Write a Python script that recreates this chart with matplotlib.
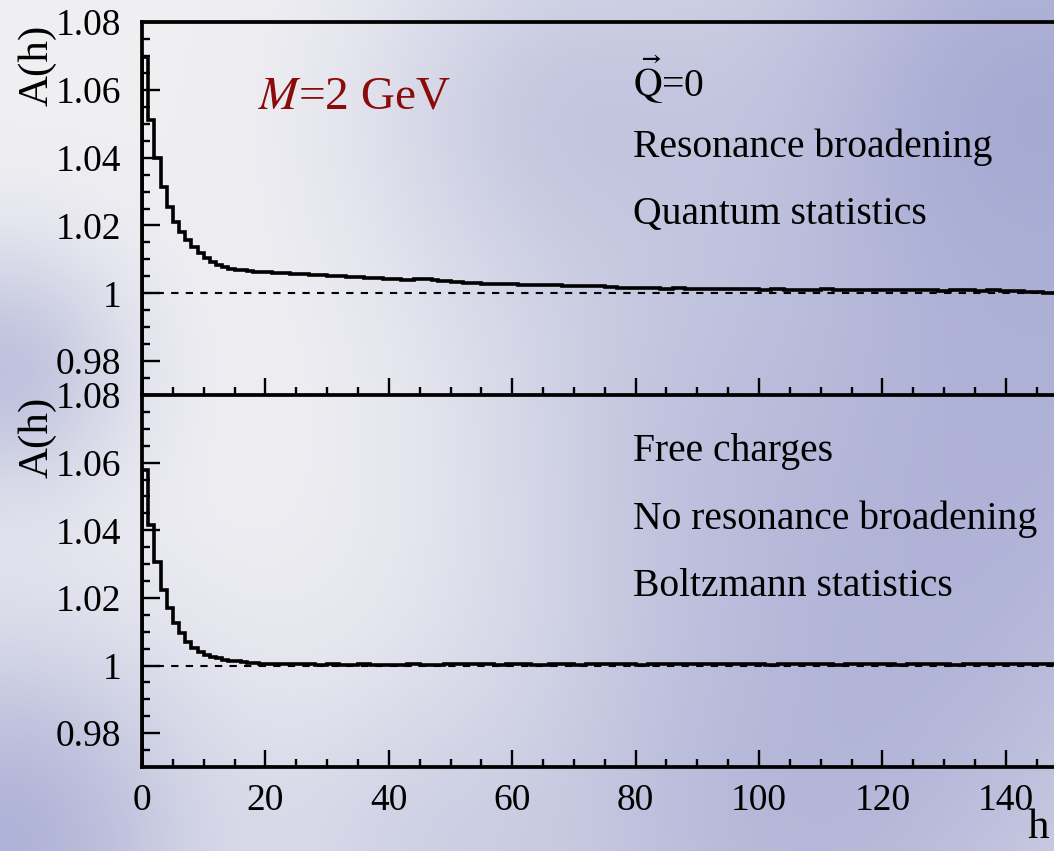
import numpy as np
import matplotlib
matplotlib.use("Agg")
import matplotlib.pyplot as plt
from matplotlib.ticker import MultipleLocator

plt.rcParams['font.family'] = ['Liberation Serif', 'DejaVu Serif']
plt.rcParams['mathtext.fontset'] = 'stix'

# A(h) per unit bin in h, bins start at h = 0
A_upper = [
    1.0697, 1.0511, 1.0398, 1.0313, 1.0254, 1.0210, 1.0180, 1.0156, 1.0136, 1.0118,
    1.0103, 1.0091, 1.0083, 1.0077, 1.0073, 1.0070, 1.0068, 1.0066, 1.0064, 1.0063,
    1.0062, 1.0061, 1.0060, 1.0059, 1.0058, 1.0057, 1.0056, 1.0055, 1.0054, 1.0053,
    1.0052, 1.0051, 1.0050, 1.0049, 1.0048, 1.0047, 1.0046, 1.0045, 1.0044, 1.0043,
    1.0042, 1.0041, 1.0040, 1.0040, 1.0041, 1.0042, 1.0042, 1.0040, 1.0037, 1.0035,
    1.0033, 1.0032, 1.0031, 1.0030, 1.0029, 1.0028, 1.0028, 1.0027, 1.0027, 1.0026,
    1.0026, 1.0025, 1.0025, 1.0024, 1.0024, 1.0024, 1.0023, 1.0023, 1.0022, 1.0022,
    1.0022, 1.0021, 1.0021, 1.0020, 1.0020, 1.0019, 1.0018, 1.0017, 1.0016, 1.0016,
    1.0016, 1.0015, 1.0015, 1.0015, 1.0014, 1.0014, 1.0015, 1.0015, 1.0014, 1.0014,
    1.0014, 1.0013, 1.0013, 1.0013, 1.0013, 1.0012, 1.0012, 1.0012, 1.0012, 1.0012,
    1.0011, 1.0011, 1.0012, 1.0012, 1.0011, 1.0011, 1.0011, 1.0010, 1.0010, 1.0011,
    1.0012, 1.0012, 1.0011, 1.0011, 1.0010, 1.0010, 1.0010, 1.0009, 1.0009, 1.0010,
    1.0010, 1.0009, 1.0009, 1.0010, 1.0010, 1.0010, 1.0009, 1.0009, 1.0009, 1.0008,
    1.0008, 1.0009, 1.0009, 1.0010, 1.0009, 1.0008, 1.0008, 1.0009, 1.0009, 1.0008,
    1.0007, 1.0006, 1.0006, 1.0005, 1.0004, 1.0003, 1.0002, 1.0002,
]

A_lower = [
    1.0579, 1.0416, 1.0307, 1.0224, 1.0171, 1.0127, 1.0097, 1.0071, 1.0053, 1.0041,
    1.0032, 1.0026, 1.0021, 1.0017, 1.0014, 1.0012, 1.0010, 1.0008, 1.0007, 1.0006,
    1.0005, 1.0005, 1.0004, 1.0004, 1.0005, 1.0005, 1.0004, 1.0004, 1.0003, 1.0003,
    1.0004, 1.0004, 1.0003, 1.0003, 1.0003, 1.0004, 1.0004, 1.0003, 1.0003, 1.0003,
    1.0003, 1.0003, 1.0003, 1.0004, 1.0004, 1.0003, 1.0003, 1.0003, 1.0003, 1.0004,
    1.0004, 1.0004, 1.0005, 1.0005, 1.0004, 1.0004, 1.0004, 1.0003, 1.0003, 1.0004,
    1.0004, 1.0004, 1.0004, 1.0003, 1.0003, 1.0003, 1.0004, 1.0004, 1.0004, 1.0004,
    1.0003, 1.0003, 1.0004, 1.0004, 1.0004, 1.0005, 1.0005, 1.0004, 1.0004, 1.0004,
    1.0003, 1.0003, 1.0004, 1.0004, 1.0005, 1.0006, 1.0006, 1.0005, 1.0004, 1.0004,
    1.0004, 1.0004, 1.0005, 1.0005, 1.0004, 1.0004, 1.0004, 1.0005, 1.0005, 1.0004,
    1.0004, 1.0003, 1.0003, 1.0004, 1.0004, 1.0004, 1.0005, 1.0005, 1.0005, 1.0004,
    1.0004, 1.0004, 1.0003, 1.0003, 1.0004, 1.0004, 1.0005, 1.0005, 1.0004, 1.0004,
    1.0004, 1.0004, 1.0003, 1.0003, 1.0004, 1.0004, 1.0004, 1.0005, 1.0005, 1.0004,
    1.0004, 1.0003, 1.0003, 1.0004, 1.0004, 1.0004, 1.0005, 1.0005, 1.0005, 1.0004,
    1.0004, 1.0004, 1.0005, 1.0006, 1.0006, 1.0005, 1.0005, 1.0004,
]

upper_notes = [r'$\vec{\mathrm{Q}}$=0', 'Resonance broadening', 'Quantum statistics']
lower_notes = ['Free charges', 'No resonance broadening', 'Boltzmann statistics']

W, H = 1054, 851
fig = plt.figure(figsize=(W / 100, H / 100), dpi=100)

# cloudy blue backdrop
bg = fig.add_axes([0, 0, 1, 1])
bg.set_axis_off()
yy, xx = np.mgrid[0:H:4, 0:W:4]
blobs = [(1040, 110, 240, 0.9), (560, 110, 140, 0.45), (920, 620, 240, 0.6),
         (780, 860, 200, 0.6), (0, 840, 150, 0.8), (0, 370, 90, 0.6),
         (680, 420, 150, 0.3), (1060, 430, 180, 0.5), (420, 860, 120, 0.3)]
keep = np.ones_like(xx, dtype=float)
for bx, by, s, w in blobs:
    keep *= 1 - w * np.exp(-((xx - bx) ** 2 + (yy - by) ** 2) / (2 * s ** 2))
t = np.clip(1 - keep, 0, 1)[..., None]
light = np.array([240, 240, 243]) / 255
blue = np.array([160, 164, 208]) / 255
bg.imshow(light * (1 - t) + blue * t, extent=[0, W, H, 0], aspect='auto',
          interpolation='bicubic')
bg.set_xlim(0, W)
bg.set_ylim(H, 0)

left = 142 / W
y_top, y_mid, y_bot = 1 - 22 / H, 1 - 395 / H, 1 - 767 / H
ax1 = fig.add_axes([left, y_mid, 1 - left, y_top - y_mid])
ax2 = fig.add_axes([left, y_bot, 1 - left, y_mid - y_bot])

for ax, vals in ((ax1, A_upper), (ax2, A_lower)):
    ax.set_facecolor('none')
    ax.stairs(vals, np.arange(len(vals) + 1), color='black', lw=2.6)
    ax.axhline(1.0, color='black', lw=1.5, ls=(0, (3.5, 3.5)))
    ax.set_xlim(0, 147.8)
    ax.set_ylim(0.97, 1.08)
    ax.yaxis.set_minor_locator(MultipleLocator(0.005))
    ax.xaxis.set_major_locator(MultipleLocator(20))
    ax.xaxis.set_minor_locator(MultipleLocator(5))
    ax.set_yticks([0.98, 1.0, 1.02, 1.04, 1.06, 1.08])
    ax.set_yticklabels(['0.98', '1', '1.02', '1.04', '1.06', '1.08'])
    ax.tick_params(which='both', direction='in', top=False, right=False,
                   labelsize=27, width=1.7)
    ax.tick_params(axis='y', which='major', length=13, pad=15)
    ax.tick_params(axis='y', which='minor', length=6)
    ax.tick_params(axis='x', which='major', length=12, pad=12)
    ax.tick_params(axis='x', which='minor', length=6)
    for side in ('left', 'bottom', 'top'):
        ax.spines[side].set_linewidth(2.7)
    ax.spines['right'].set_visible(False)

ax1.tick_params(axis='x', labelbottom=False)
ax2.spines['top'].set_visible(False)

fig.text(258 / W, 1 - 97 / H, '$M$=2 GeV', color='#8b0a0a', fontsize=34,
         va='center', ha='left')
for i, note in enumerate(upper_notes):
    fig.text(633 / W, 1 - (80 + 67 * i) / H, note, fontsize=28.5, va='center', ha='left')
for i, note in enumerate(lower_notes):
    fig.text(633 / W, 1 - (452 + 67 * i) / H, note, fontsize=28.5, va='center', ha='left')

fig.text(37 / W, 1 - 65 / H, 'A(h)', rotation=90, fontsize=31, va='center', ha='center')
fig.text(37 / W, 1 - 437 / H, 'A(h)', rotation=90, fontsize=31, va='center', ha='center')
fig.text(1038 / W, 1 - 828 / H, 'h', fontsize=31, va='center', ha='center')

fig.savefig('out.png', dpi=100)
